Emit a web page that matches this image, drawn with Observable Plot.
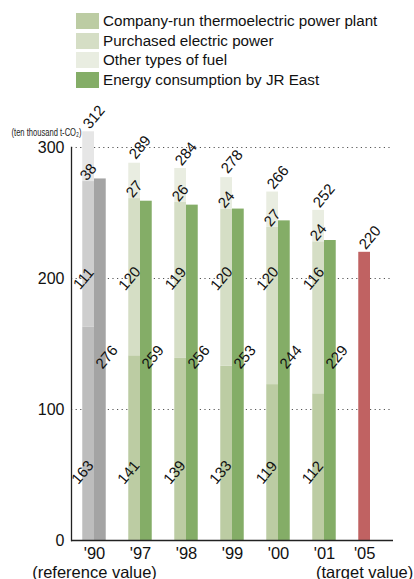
<!DOCTYPE html>
<html>
<head>
<meta charset="utf-8">
<script src="https://cdn.jsdelivr.net/npm/d3@7"></script>
<script src="https://cdn.jsdelivr.net/npm/@observablehq/plot@0.6"></script>
<style>
  html, body { margin: 0; padding: 0; background: #fff; }
  body { width: 414px; height: 579px; overflow: hidden; font-family: "Liberation Sans", Arial, sans-serif; }
  #legend { height: 92px; box-sizing: border-box; padding-top: 13px; padding-left: 76px; }
  .row { display: flex; align-items: center; height: 16px; margin-bottom: 3.7px; }
  .sw { width: 23px; height: 16px; flex: none; }
  .lbl { margin-left: 4px; font-size: 15.2px; color: #111; line-height: 16px; white-space: nowrap; }
  #chart svg { display: block; overflow: visible; }
</style>
</head>
<body>
<div id="legend"></div>
<div id="chart"></div>
<script>
// ---- data ----
const years = ["'90", "'97", "'98", "'99", "'00", "'01", "'05"];
const thermo = [163, 141, 139, 133, 119, 112];
const purchased = [111, 120, 119, 120, 120, 116];
const otherFuel = [38, 27, 26, 24, 27, 24];
const totals = [312, 289, 284, 278, 266, 252];
const energy = [276, 259, 256, 253, 244, 229];
const target = 220;
const seriesNames = ["Company-run thermoelectric power plant", "Purchased electric power", "Other types of fuel", "Energy consumption by JR East"];
const yTicks = [0, 100, 200, 300];
const subLabels = { "'90": "(reference value)", "'05": "(target value)" };
const unitLabel = "(ten thousand t-CO₂)";
// fixed label heights (in data units)
const thermoLabelY = 52, purchasedLabelY = 200, energyLabelY = 140;

// ---- styles ----
const green = { thermo: "#bccca3", purchased: "#d5dec5", other: "#e9ede1", energy: "#84ad67" };
const grey = { thermo: "#bdbdbd", purchased: "#cecece", other: "#e6e6e6", energy: "#a4a4a4" };
const targetColor = "#c06262";

// ---- legend ----
const legend = document.getElementById("legend");
["thermo", "purchased", "other", "energy"].forEach((k, i) => {
  const row = document.createElement("div");
  row.className = "row";
  row.innerHTML = `<span class="sw" style="background:${green[k]}"></span><span class="lbl">${seriesNames[i]}</span>`;
  legend.appendChild(row);
});

// ---- tables ----
const hist = years.slice(0, 6);
const stackRows = hist.flatMap((year, i) => [
  { year, layer: "thermo", value: thermo[i] },
  { year, layer: "purchased", value: purchased[i] },
  { year, layer: "other", value: otherFuel[i] }
]);
const energyRows = hist.map((year, i) => ({ year, value: energy[i] }));
const targetRows = [{ year: years[6], value: target }];
const totalRows = years.map((year, i) => ({ year, value: i < 6 ? totals[i] : target }));
const labelRows = hist.map((year, i) => ({
  year, thermo: thermo[i], purchased: purchased[i], other: otherFuel[i],
  purchTop: thermo[i] + purchased[i], energy: energy[i]
}));
const xLabelRows = years.map(year => ({ year, text: subLabels[year] ? year + "\n" + subLabels[year] : year }));
const palette = y => (y === years[0] ? grey : green);

const txt = { fontSize: 15, fill: "#111", rotate: -50 };

const chart = Plot.plot({
  width: 414,
  height: 487,
  marginLeft: 70,
  marginRight: 20,
  marginTop: 55,
  marginBottom: 39,
  style: { fontFamily: "'Liberation Sans', Arial, sans-serif", background: "white", color: "#111" },
  fx: { domain: years, padding: 0, axis: null },
  x: { domain: ["s", "e"], paddingInner: 0, paddingOuter: 0.96, round: false, axis: null },
  y: { domain: [0, 300] },
  marks: [
    Plot.gridY(yTicks.filter(d => d > 0), { stroke: "#555", strokeOpacity: 1, strokeWidth: 1, strokeDasharray: "1.2,3.4" }),
    Plot.barY(stackRows, Plot.stackY({ fx: "year", x: () => "s", y: "value", fill: d => palette(d.year)[d.layer] })),
    Plot.barY(energyRows, { fx: "year", x: () => "e", y: "value", fill: d => palette(d.year).energy }),
    Plot.barY(targetRows, { fx: "year", x: () => "s", y: "value", fill: targetColor }),
    Plot.ruleY([0], { stroke: "#222", strokeWidth: 1.3 }),
    Plot.frame({ anchor: "left", facetAnchor: "left", stroke: "#222", strokeWidth: 1.3 }),
    Plot.axisY({ ticks: yTicks, tickSize: 0, tickPadding: 7, fontSize: 16, label: null }),
    // value labels
    Plot.text(totalRows, { fx: "year", x: () => "s", y: "value", text: d => String(d.value), textAnchor: "start", lineAnchor: "bottom", dx: 1, dy: -2, ...txt }),
    Plot.text(labelRows, { fx: "year", x: () => "s", y: "purchTop", text: d => String(d.other), textAnchor: "start", lineAnchor: "bottom", dx: -2, dy: 0, ...txt }),
    Plot.text(labelRows, { fx: "year", x: () => "s", y: () => purchasedLabelY, text: d => String(d.purchased), textAnchor: "middle", lineAnchor: "middle", dx: -5, ...txt }),
    Plot.text(labelRows, { fx: "year", x: () => "s", y: () => thermoLabelY, text: d => String(d.thermo), textAnchor: "middle", lineAnchor: "middle", dx: -6, ...txt }),
    Plot.text(labelRows, { fx: "year", x: () => "e", y: () => energyLabelY, text: d => String(d.energy), textAnchor: "middle", lineAnchor: "middle", dx: 6.5, ...txt }),
    // category labels
    Plot.text(xLabelRows.filter(d => d.year !== years[6]), { fx: "year", frameAnchor: "bottom", text: "text", lineAnchor: "top", dy: 6, fontSize: 16.5, lineHeight: 1.1, fill: "#111" }),
    Plot.text(xLabelRows.filter(d => d.year === years[6]), { fx: "year", x: () => "s", frameAnchor: "bottom", text: "text", lineAnchor: "top", dy: 6, fontSize: 16.5, lineHeight: 1.1, fill: "#111" }),
    // unit label
    Plot.text([{ year: years[0], text: unitLabel }], { fx: "year", frameAnchor: "top-left", text: "text", textAnchor: "start", dx: -60, dy: -19, fontSize: 11, fill: "#222" })
  ]
});
document.getElementById("chart").appendChild(chart);

// condense the unit label like the original
chart.querySelectorAll("text").forEach(t => {
  if (t.textContent === unitLabel) {
    t.setAttribute("textLength", "70");
    t.setAttribute("lengthAdjust", "spacingAndGlyphs");
  }
});
</script>
</body>
</html>
